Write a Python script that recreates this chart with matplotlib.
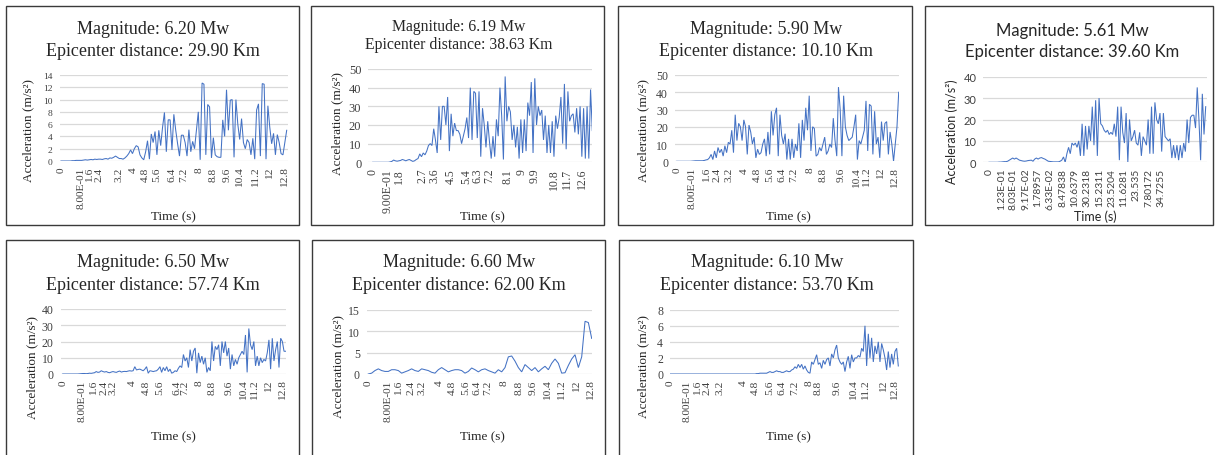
import numpy as np
import matplotlib
matplotlib.use("Agg")
import matplotlib.pyplot as plt
from matplotlib.patches import Rectangle

# ---------------- data ----------------
magnitudes = ["6.20", "6.19", "5.90", "5.61", "6.50", "6.60", "6.10"]
distances = ["29.90", "38.63", "10.10", "39.60", "57.74", "62.00", "53.70"]

std_labels = ["0", "8.00E-01", "1.6", "2.4", "3.2", "4", "4.8", "5.6", "6.4", "7.2",
              "8", "8.8", "9.6", "10.4", "11.2", "12", "12.8"]
p2_labels = ["0", "9.00E-01", "1.8", "2.7", "3.6", "4.5", "5.4", "6.3", "7.2", "8.1",
             "9", "9.9", "10.8", "11.7", "12.6"]
p4_labels = ["0", "1.23E-01", "8.03E-01", "9.17E-02", "1.78957", "6.33E-02", "8.47838",
             "10.6379", "30.2318", "15.2311", "23.5204", "11.6281", "23.535", "7.80172", "34.7255"]

# tick positions along the record (percent of record length)
p1_tick_pos = [0, 8.9, 12.6, 16.8, 25.7, 32.1, 37.5, 42.4, 49.3, 54.5, 61.2, 67.2, 73.4, 79.0, 86.1, 92.3, 99.0]
p2_tick_pos = [0, 6.8, 12.1, 22.6, 28.1, 35.7, 42.8, 47.8, 53.1, 61.3, 68.0, 73.6, 82.7, 88.5, 95.1]
p3_tick_pos = [0, 6.8, 13.5, 18.3, 23.7, 30.3, 36.5, 42.0, 47.6, 52.6, 60.1, 66.1, 74.0, 80.8, 85.6, 91.6, 97.9]
p4_tick_pos = [0, 5.7, 11.3, 17.0, 22.6, 28.3, 34.0, 39.6, 45.3, 50.9, 56.6, 62.3, 67.9, 73.6, 79.2]
p5_tick_pos = [0, 8.5, 13.8, 18.7, 22.7, 31.4, 37.7, 43.3, 51.1, 54.9, 61.3, 67.0, 74.7, 81.0, 86.2, 92.2, 98.7]
p6_tick_pos = [0, 8.7, 13.4, 19.0, 23.9, 31.8, 37.8, 43.7, 48.8, 53.4, 60.9, 67.6, 73.9, 80.3, 86.3, 93.0, 99.3]
p7_tick_pos = [0, 7.6, 12.0, 16.1, 21.9, 32.1, 37.5, 43.5, 48.9, 54.5, 61.0, 65.0, 73.0, 80.3, 85.8, 93.4, 98.5]

p1_values = [0, 0, 0, 0, 0, 0, 0.05, 0.05, 0.1, 0.1, 0.1, 0.1, 0.15, 0.2, 0.15, 0.2, 0.25, 0.2, 0.3, 0.25,
             0.3, 0.3, 0.25, 0.35, 0.4, 0.3, 0.5, 0.45, 0.6, 0.8, 0.6, 0.4, 0.4, 0.3, 0.5, 0.8, 1.2, 1.8, 1.2, 2.0,
             2.5, 2.3, 1.0, 0.5, 0.2,
             1.5, 3.3, 0.3, 4.4, 3.0, 4.8, 1.0, 5.0, 2.5, 5.5, 7.9, 1.5, 6.7, 6.7, 1.8, 7.6, 5.0, 2.8, 0.8, 4.2,
             4.2, 3.0, 0.8, 5.1, 1.5, 3.2, 2.0, 5.0, 8.0, 0.2, 12.7, 12.5, 1.0, 9.2, 8.8, 0.5, 3.8, 1.0, 0.7, 0.6,
             0.6, 6.7, 4.0, 11.6, 5.0, 9.9, 10.0, 0.6, 10.0, 6.0, 3.5, 6.9, 3.0, 2.0, 3.5, 3.0, 1.0, 3.7, 0.3, 8.3,
             9.3, 0.8, 12.6, 12.5, 0.3, 9.0, 5.5, 2.8, 4.5, 1.0, 4.3, 3.0, 1.2, 1.0, 3.0, 5.0]

p2_values = [0, 0, 0, 0, 0, 0, 0, 0, 0, 0, 0.2, 0.5, 1.2, 0.8, 0.6, 0.8, 1.0, 1.5, 1.2, 0.8, 1.2, 1.5, 1.0, 0.5,
             0.8, 1.5, 2.0,
             4.5, 3, 5, 4, 6, 9, 10, 9, 18, 12, 5, 30, 12, 30, 30, 20, 35, 6, 26, 14, 21, 17, 17, 15, 10, 14, 18,
             24, 13, 40, 12, 38, 37, 13, 38, 3, 29, 20, 8, 22, 11, 2, 14, 3, 23, 14, 40, 25, 1.5, 46, 22, 30, 27,
             12, 20, 8, 19, 2, 23, 5, 23, 6, 32, 25, 43, 5, 45, 20, 30, 25, 28, 12, 25, 5, 20, 5, 22, 3, 25, 18,
             24, 35, 10, 42, 7, 38, 22, 25, 26, 16, 29, 15, 30, 3, 29, 2, 30, 2, 39, 17]

p3_values = [0, 0, 0, 0, 0, 0, 0, 0, 0, 0.1, 0.2, 0.3, 0.3, 0.3, 0.3, 0.3, 0.5, 0.8,
             1, 2, 4, 1, 6, 2, 8, 5, 7, 3, 9, 5, 11, 10, 18, 5, 27, 12, 22, 20, 12, 24, 20, 4, 21, 17, 10, 14,
             2, 7, 4, 5, 10, 13, 3, 17, 4, 29, 15, 27, 31, 3, 27, 15, 10, 16, 1, 13, 1, 13, 2, 10, 6, 22, 2, 24,
             12, 31, 18, 38, 6, 20, 19, 3, 4, 8, 6, 10, 14, 4, 6, 10, 8, 25, 12, 3, 43, 30, 3, 38, 20, 15, 12, 13,
             14, 20, 27, 1, 12, 10, 14, 18, 35, 6, 33, 32, 4, 29, 10, 14, 2, 23, 12, 22, 23, 4, 17, 10, 0, 10, 20, 40]

p4_values = [0, 0, 0, 0, 0, 0, 0.1, 0.1, 0.2, 0.3, 0.3, 0.5,
             1, 1.5, 2, 1.5, 2, 1.5, 1, 0.8, 0.6, 0.5, 0.6, 0.8, 0.9, 1, 0.5, 1.5, 2, 1.5, 2, 2.2, 1.8, 1.5, 1,
             0.5, 0.4, 0.3, 0.2, 0.2, 0.2, 0.2, 0.5, 1, 2.5, 0, 4, 7, 4, 9, 8, 9, 7, 10, 3, 18, 3, 17, 6, 17, 10,
             26, 8, 29, 3, 30, 18, 17, 15, 14, 15, 13, 14, 13, 18, 12, 26, 1, 26, 14, 9, 23, 0, 20, 10, 12, 15, 9,
             8, 14, 3, 12, 10, 8, 20, 4, 26, 4, 28, 20, 18, 23, 5, 23, 12, 11, 10, 11, 2, 8, 2, 8, 1, 8, 2, 9, 5,
             20, 9, 21, 22, 22, 16, 35, 20, 1, 32, 13, 26]

p5_values = [0, 0, 0, 0, 0, 0, 0, 0, 0, 0, 0.1, 0.2, 0.3, 0.3, 0.2, 0.3, 0.5, 0.4, 0.6, 0.8, 1.5, 1.0, 1.2, 2.0,
             1.5, 1.2, 1.5, 1.0, 0.8, 1.2, 1.5, 1.2, 1.0, 1.5, 1.8, 1.2, 1.5, 1.6, 1.5, 1.8, 2.0, 1.8, 2.0,
             4.5, 2.5, 2.8, 3, 2.5, 2, 3, 4.5, 0.5, 2, 1.8, 1.5, 1.8, 2, 3, 4.5, 1, 4, 2, 4.5, 1.5, 3, 0.5, 1, 2,
             1.5, 3.5, 5, 4, 12, 8, 10, 4, 15, 8, 14, 16, 0.5, 13, 7, 11, 6, 10, 1, 4, 2, 20, 8, 17, 15, 18, 5, 20,
             13, 20, 11, 16, 3, 12, 5, 9, 6, 10, 12, 14, 12, 24, 1, 28, 18, 15, 20, 5, 11, 5, 10, 7, 9, 8, 13, 21,
             3, 22, 8, 15, 20, 4, 22, 20, 14, 14]

p6_values = [0, 0.2, 0.8, 1.2, 0.8, 0.6, 0.6, 1.0, 1.0, 0.8, 0.2, 0.5, 0.8, 1.2, 0.8, 0.6, 1.2, 1.0, 0.8, 0.4,
             0.2, 1.0, 1.5, 1.0, 0.5, 0.8, 1.0, 1.0, 0.8, 0.2, 0.6, 1.4, 1.0, 0.5, 1.0, 1.2, 0.8, 0.5, 0.2, 1.0,
             0.5, 1.5, 4.0, 4.2, 3.0, 1.5, 0.5, 2.2, 1.5, 0.8, 1.5, 0.5, 1.2, 1.8, 1.0, 2.5, 3.5, 2.5, 0.2, 0.3,
             2.0, 3.5, 4.5, 1.5, 4.0, 12.3, 12.0, 8.3]

p7_values = [0, 0, 0, 0, 0, 0, 0, 0, 0, 0, 0, 0, 0, 0, 0, 0, 0, 0, 0, 0, 0, 0, 0, 0, 0, 0,
             0, 0, 0, 0, 0, 0, 0, 0, 0, 0, 0, 0, 0, 0, 0, 0, 0, 0, 0, 0, 0, 0, 0, 0, 0, 0,
             0.05, 0.05, 0.1, 0.1, 0.1, 0.1, 0.1, 0.2, 0.3, 0.2, 0.2, 0.3, 0.4, 0.3, 0.3, 0.2, 0.2, 0.3, 0.4, 0.3,
             0.3, 0.5, 0.6, 0.9, 0.7, 1.2, 0.8, 1.2, 0.6, 1.0, 0.5, 0.2, 0.1, 1.5, 1.2, 1.8, 2.4, 1.2, 1.4, 0.7,
             1.7, 1.2, 1.8, 2.0, 1.0, 2.5, 2.0, 3.0, 3.6, 2.0, 1.5, 1.2, 1.5, 0.3, 1.5, 2.2, 0.7, 2.4, 1.5, 2.0,
             2.0, 2.3, 2.1, 3.2, 2.8, 6.0, 1.0, 5.0, 2.0, 4.5, 1.5, 3.5, 2.5, 4.0, 1.5, 3.8, 3.0, 2.0, 0.5, 2.8,
             0.8, 2.5, 1.2, 2.8, 3.2, 1.0]

y_max = [14, 50, 50, 40, 40, 15, 8]
y_step = [2, 10, 10, 10, 10, 5, 2]

values = [p1_values, p2_values, p3_values, p4_values, p5_values, p6_values, p7_values]
tick_pos = [p1_tick_pos, p2_tick_pos, p3_tick_pos, p4_tick_pos, p5_tick_pos, p6_tick_pos, p7_tick_pos]
tick_labels = [std_labels, p2_labels, std_labels, p4_labels, std_labels, std_labels, std_labels]

# ---------------- layout (reference pixels) ----------------
W, H = 1216, 456
SERIF = ["Liberation Serif", "DejaVu Serif"]
SANS = ["Lato", "DejaVu Sans"]

layout = [
    dict(box=(6, 7, 299, 226), grid=(59.5, 287.5), trace=(61, 286.7), y=(162, 76), tx=153, ty=(29, 51), tfs=13,
         font=SERIF, yl=(28, 130), xl=(173, 217), xfs=8.2, yfs=6.8, lfs=9.5),
    dict(box=(311, 7, 604, 226), grid=(368.3, 592.3), trace=(372.7, 592.3), y=(163.3, 70), tx=459, ty=(27, 45), tfs=11.3,
         font=SERIF, yl=(337, 124), xl=(482, 217), xfs=8.5, yfs=9, lfs=9.5),
    dict(box=(618, 7, 912, 226), grid=(675, 899.3), trace=(676.7, 898.7), y=(162.3, 76), tx=766, ty=(29, 51), tfs=13,
         font=SERIF, yl=(643, 130), xl=(788, 217), xfs=8.2, yfs=8.5, lfs=9.5),
    dict(box=(925, 7, 1213, 226), grid=(983.3, 1206.7), trace=(989, 1205.7), y=(163.3, 77.7), tx=1072, ty=(31, 52), tfs=12,
         font=SANS, yl=(952, 132), xl=(1095, 217), xfs=7.4, yfs=8, lfs=9),
    dict(box=(6, 241, 299, 470), grid=(60.7, 286), trace=(62.7, 285.7), y=(375, 310), tx=153, ty=(263, 285), tfs=13,
         font=SERIF, yl=(32, 368), xl=(173, 437), xfs=8.2, yfs=8.5, lfs=9.5),
    dict(box=(312, 241, 605, 470), grid=(366.7, 592.3), trace=(368.3, 591.7), y=(375, 310.7), tx=459, ty=(263, 285), tfs=13,
         font=SERIF, yl=(338, 367), xl=(482, 437), xfs=8.2, yfs=8.5, lfs=9.5),
    dict(box=(619, 241, 913, 470), grid=(670, 899.3), trace=(670, 898.3), y=(375, 310.7), tx=767, ty=(263, 285), tfs=13,
         font=SERIF, yl=(643, 367), xl=(788, 437), xfs=8.2, yfs=8.5, lfs=9.5),
]

LINE = "#4472C4"
GRID = "#D9D9D9"
TXT = "#404040"
TITLE = "#262626"

fig = plt.figure(figsize=(W / 100, H / 100), dpi=100)
fig.patch.set_facecolor("white")


def fx(x):
    return x / W


def fy(y):
    return 1 - y / H


for i, L in enumerate(layout):
    bl, bt, br, bb = L["box"]
    fig.add_artist(Rectangle((fx(bl), fy(bb)), fx(br - bl), (bb - bt) / H, transform=fig.transFigure,
                             fill=False, edgecolor="#3a3a3a", linewidth=1.0))
    gl, gr = L["grid"]
    ts, te = L["trace"]
    y0, y1 = L["y"]
    ax = fig.add_axes([fx(gl), fy(y0), fx(gr - gl), (y0 - y1) / H])
    vals = values[i]
    x = np.linspace(0, 100, len(vals))
    ax.plot(x, vals, color=LINE, linewidth=0.75, solid_joinstyle="miter")
    ax.set_xlim((gl - ts) / (te - ts) * 100, (gr - ts) / (te - ts) * 100)
    ax.set_ylim(0, y_max[i])
    ax.set_yticks(np.arange(0, y_max[i] + 0.1, y_step[i]))
    ax.set_xticks(tick_pos[i])
    fam = L["font"]
    ax.set_xticklabels(tick_labels[i], rotation=90, family=fam, fontsize=L["xfs"], color=TXT)
    ax.set_yticklabels([str(int(v)) for v in ax.get_yticks()], family=fam, fontsize=L["yfs"], color=TXT)
    ax.tick_params(axis="both", length=0)
    ax.tick_params(axis="x", pad=4)
    ax.tick_params(axis="y", pad=5)
    for s in ax.spines.values():
        s.set_visible(False)
    ax.grid(axis="y", color=GRID, linewidth=0.9)
    ax.set_axisbelow(True)
    ax.set_facecolor("none")
    # titles
    fig.text(fx(L["tx"]), fy(L["ty"][0]), f"Magnitude: {magnitudes[i]} Mw", ha="center", va="center",
             family=fam, fontsize=L["tfs"], color=TITLE)
    fig.text(fx(L["tx"]), fy(L["ty"][1]), f"Epicenter distance: {distances[i]} Km", ha="center", va="center",
             family=fam, fontsize=L["tfs"], color=TITLE)
    fig.text(fx(L["yl"][0]), fy(L["yl"][1]), "Acceleration (m/s²)", rotation=90, ha="center", va="center",
             family=fam, fontsize=L["lfs"], color=TITLE)
    fig.text(fx(L["xl"][0]), fy(L["xl"][1]), "Time (s)", ha="center", va="center",
             family=fam, fontsize=L["lfs"], color=TITLE)

fig.savefig("out.png", dpi=100, facecolor="white")
